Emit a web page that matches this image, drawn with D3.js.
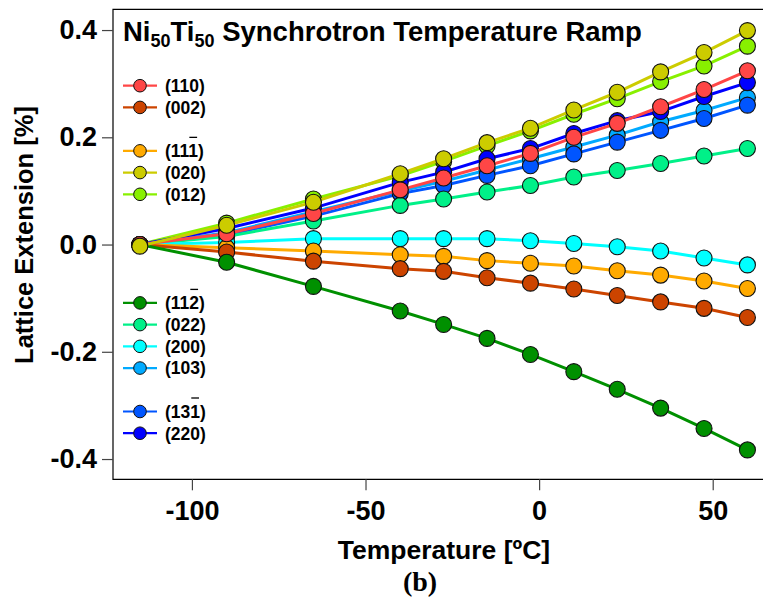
<!DOCTYPE html>
<html><head><meta charset="utf-8">
<script src="https://cdn.jsdelivr.net/npm/d3@7/dist/d3.min.js"></script>
<style>body{margin:0;background:#fff}svg{display:block}</style>
</head><body>
<svg id="chart" width="763" height="601"></svg>
<script>
// ---- data ----
const temperatures = [-115, -90, -65, -40, -27.5, -15, -2.5, 10, 22.5, 35, 47.5, 60];
const xTicks = [-100, -50, 0, 50];
const yTicks = [-0.4, -0.2, 0.0, 0.2, 0.4];

const labels = ["(110)", "(002)", "(111)", "(020)", "(012)", "(112)", "(022)", "(200)", "(103)", "(131)", "(220)"];
const overbarChar = [null, null, 3, null, null, 3, null, null, null, 3, null];
const colors = ["#ff4646", "#cc4400", "#ffaa00", "#cccc00", "#88f000", "#009000", "#00f088", "#00ffff", "#00aaff", "#0055ff", "#0000ff"];

const s110 = [0.000, 0.020, 0.058, 0.102, 0.124, 0.147, 0.170, 0.200, 0.226, 0.257, 0.289, 0.324];
const s002 = [0.000, -0.014, -0.031, -0.045, -0.050, -0.062, -0.072, -0.083, -0.095, -0.107, -0.119, -0.136];
const s111 = [0.000, -0.006, -0.012, -0.019, -0.022, -0.030, -0.035, -0.040, -0.049, -0.057, -0.068, -0.082];
const s020 = [-0.003, 0.036, 0.079, 0.132, 0.160, 0.190, 0.217, 0.251, 0.284, 0.322, 0.358, 0.399];
const s012 = [0.000, 0.040, 0.085, 0.128, 0.155, 0.184, 0.212, 0.243, 0.272, 0.304, 0.333, 0.370];
const s112 = [0.000, -0.033, -0.078, -0.124, -0.149, -0.175, -0.205, -0.237, -0.270, -0.305, -0.343, -0.383];
const s022 = [0.000, 0.015, 0.044, 0.073, 0.085, 0.098, 0.110, 0.126, 0.138, 0.151, 0.165, 0.179];
const s200 = [0.000, 0.004, 0.011, 0.011, 0.011, 0.011, 0.007, 0.002, -0.004, -0.012, -0.025, -0.038];
const s103 = [0.000, 0.022, 0.061, 0.100, 0.118, 0.139, 0.160, 0.182, 0.204, 0.229, 0.250, 0.274];
const s131 = [0.000, 0.018, 0.053, 0.095, 0.110, 0.129, 0.147, 0.169, 0.191, 0.213, 0.235, 0.260];
const s220 = [0.000, 0.030, 0.068, 0.116, 0.135, 0.160, 0.179, 0.207, 0.231, 0.248, 0.276, 0.302];

const seriesValues = [s110, s002, s111, s020, s012, s112, s022, s200, s103, s131, s220];
const legendRows = [0, 1, 3, 4, 5, 10, 11, 12, 13, 15, 16];
const drawOrder = [4, 8, 9, 10, 6, 7, 2, 1, 5, 0, 3];

// ---- layout ----
const FONT = "'Liberation Sans', Arial, Helvetica, sans-serif";
const plot = {left: 113, top: 9.3, right: 766, bottom: 479.3};

const svg = d3.select("#chart");
const x = d3.scaleLinear().domain([-122.73, 65.35]).range([plot.left, plot.right]);
const y = d3.scaleLinear().domain([-0.4378, 0.4387]).range([plot.bottom, plot.top]);

// frame (left, top, bottom)
svg.append("path")
  .attr("d", `M${plot.right},${plot.top}H${plot.left}V${plot.bottom}H${plot.right}`)
  .attr("fill", "none").attr("stroke", "#000").attr("stroke-width", 1.2);

// axes
const xAxis = svg.append("g").attr("transform", `translate(0,${plot.bottom})`)
  .call(d3.axisBottom(x).tickValues(xTicks).tickSize(11).tickPadding(11).tickFormat(d3.format("d")));
const yAxis = svg.append("g").attr("transform", `translate(${plot.left},0)`)
  .call(d3.axisLeft(y).tickValues(yTicks).tickSize(11).tickPadding(5).tickFormat(d3.format(".1f")));
[xAxis, yAxis].forEach(g => {
  g.select(".domain").remove();
  g.selectAll(".tick line").attr("stroke", "#444").attr("stroke-width", 1.2);
  g.selectAll(".tick text").attr("fill", "#000")
    .style("font-family", FONT).style("font-weight", "bold").style("font-size", "27px");
});
yAxis.selectAll(".tick text").text(d => d3.format(".1f")(d).replace("−", "-"));
xAxis.selectAll(".tick text").text(d => String(d)).attr("dy", "0.71em");

// series
const line = d3.line().x((d, i) => x(temperatures[i])).y(d => y(d));
const marks = svg.append("g");
drawOrder.forEach(si => {
  const g = marks.append("g");
  g.append("path").datum(seriesValues[si])
    .attr("d", line).attr("fill", "none")
    .attr("stroke", colors[si]).attr("stroke-width", 3);
  g.selectAll("circle").data(seriesValues[si]).join("circle")
    .attr("cx", (d, i) => x(temperatures[i])).attr("cy", d => y(d)).attr("r", 8)
    .attr("fill", colors[si]).attr("stroke", "#111").attr("stroke-width", 1.1);
});

// legend
const legend = svg.append("g");
labels.forEach((lab, i) => {
  const ry = 85.7 + 21.72 * legendRows[i];
  legend.append("line").attr("x1", 123).attr("x2", 157).attr("y1", ry).attr("y2", ry)
    .attr("stroke", colors[i]).attr("stroke-width", 2.2);
  legend.append("circle").attr("cx", 140).attr("cy", ry).attr("r", 6.3)
    .attr("fill", colors[i]).attr("stroke", "#111").attr("stroke-width", 1);
  const t = legend.append("text").attr("x", 165).attr("y", ry).attr("dy", "0.36em")
    .style("font-family", FONT).style("font-weight", "bold").style("font-size", "17.5px")
    .text(lab);
  if (overbarChar[i] !== null) {
    const ext = t.node().getExtentOfChar(overbarChar[i]);
    legend.append("line")
      .attr("x1", ext.x + 1).attr("x2", ext.x + ext.width - 1)
      .attr("y1", ry - 13.5).attr("y2", ry - 13.5)
      .attr("stroke", "#000").attr("stroke-width", 1.3);
  }
});

// title
const title = svg.append("text").attr("x", 123).attr("y", 40.5)
  .style("font-family", FONT).style("font-weight", "bold").style("font-size", "27.5px");
title.append("tspan").text("Ni");
title.append("tspan").attr("dy", 6).style("font-size", "18px").text("50");
title.append("tspan").attr("dy", -6).text("Ti");
title.append("tspan").attr("dy", 6).style("font-size", "18px").text("50");
title.append("tspan").attr("dy", -6).text(" Synchrotron Temperature Ramp");

// axis titles
svg.append("text").attr("x", 444).attr("y", 558.5).attr("text-anchor", "middle")
  .style("font-family", FONT).style("font-weight", "bold").style("font-size", "26.5px")
  .text("Temperature [ºC]");
svg.append("text").attr("transform", "translate(33,235) rotate(-90)").attr("text-anchor", "middle")
  .style("font-family", FONT).style("font-weight", "bold").style("font-size", "25.5px")
  .text("Lattice Extension [%]");

// panel label
svg.append("text").attr("x", 420).attr("y", 591).attr("text-anchor", "middle")
  .style("font-family", "'Liberation Serif', 'Times New Roman', serif").style("font-weight", "bold").style("font-size", "28px")
  .text("(b)");
</script>
</body></html>
